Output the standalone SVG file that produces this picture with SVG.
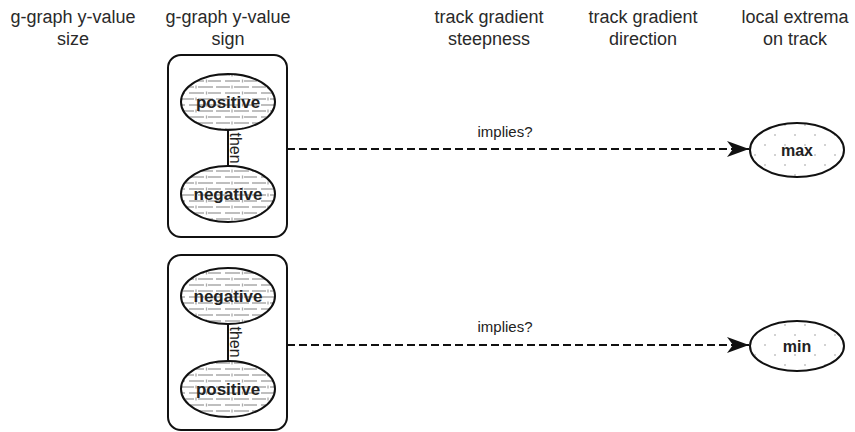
<svg xmlns="http://www.w3.org/2000/svg" width="855" height="432" viewBox="0 0 855 432">
  <defs>
    <!-- gray horizontal dash texture for sign ellipses -->
    <pattern id="hatch" patternUnits="userSpaceOnUse" width="36" height="12">
      <rect width="36" height="12" fill="#ffffff"/>
      <g stroke="#aaaaaa" stroke-width="1.3" fill="none">
        <path d="M0 3 H14 M18 3 H33"/>
        <path d="M0 9 H5 M9 9 H24 M28 9 H36"/>
        <path d="M16 1.5 V4.5 M26.5 7.5 V10.5"/>
      </g>
    </pattern>
    <!-- sparse dot texture for extrema ellipses -->
    <pattern id="dots" patternUnits="userSpaceOnUse" width="20" height="20">
      <rect width="20" height="20" fill="#ffffff"/>
      <circle cx="5" cy="5" r="0.8" fill="#999"/>
      <circle cx="15" cy="15" r="0.8" fill="#999"/>
    </pattern>
    <marker id="arrow" viewBox="0 0 22 16" refX="22" refY="8" markerWidth="22" markerHeight="16" markerUnits="userSpaceOnUse" orient="auto">
      <path d="M0 0 L22 8 L0 16 L6 8 Z" fill="#111"/>
    </marker>
    <style>
      .hdr { font-family: "Liberation Sans", Arial, sans-serif; font-size: 18px; fill: #2a2a2a; text-anchor: middle; }
      .box { fill: none; stroke: #111; stroke-width: 2; }
      .sign { fill: url(#hatch); stroke: #111; stroke-width: 2; }
      .ext { fill: url(#dots); stroke: #111; stroke-width: 2; }
      .lbl { font-family: "Liberation Sans", Arial, sans-serif; font-size: 17px; font-weight: bold; fill: #222; text-anchor: middle; }
      .then { font-family: "Liberation Sans", Arial, sans-serif; font-size: 16px; fill: #222; text-anchor: middle; }
      .imp { font-family: "Liberation Sans", Arial, sans-serif; font-size: 15px; fill: #222; text-anchor: middle; }
      .link { stroke: #111; stroke-width: 2; fill: none; }
      .dash { stroke: #111; stroke-width: 2; fill: none; stroke-dasharray: 8 4; marker-end: url(#arrow); }
    </style>
  </defs>

  <!-- column headers -->
  <g id="headers">
    <text class="hdr" x="73" y="23">g-graph y-value</text>
    <text class="hdr" x="73" y="45">size</text>
    <text class="hdr" x="228" y="23">g-graph y-value</text>
    <text class="hdr" x="228" y="45">sign</text>
    <text class="hdr" x="489" y="23">track gradient</text>
    <text class="hdr" x="489" y="45">steepness</text>
    <text class="hdr" x="643" y="23">track gradient</text>
    <text class="hdr" x="643" y="45">direction</text>
    <text class="hdr" x="795" y="23">local extrema</text>
    <text class="hdr" x="795" y="45">on track</text>
  </g>

  <!-- frames around each sign sequence -->
  <g id="frame-1"><rect class="box" x="168" y="55" width="119" height="182" rx="13"/></g>
  <g id="frame-2"><rect class="box" x="168" y="255" width="119" height="175" rx="13"/></g>

  <!-- connectors -->
  <g id="connectors">
    <line class="link" x1="228" y1="130" x2="228" y2="166"/>
    <text class="then" transform="translate(230 148) rotate(90)">then</text>
    <line class="link" x1="228" y1="324" x2="228" y2="361"/>
    <text class="then" transform="translate(230 342) rotate(90)">then</text>
    <line class="dash" x1="287" y1="149" x2="749" y2="149"/>
    <text class="imp" x="505" y="137">implies?</text>
    <line class="dash" x1="287" y1="345" x2="749" y2="345"/>
    <text class="imp" x="505" y="332">implies?</text>
  </g>

  <!-- sequence: positive then negative -->
  <g id="pos-1">
    <ellipse class="sign" cx="228" cy="102" rx="47" ry="28"/>
    <text class="lbl" x="228" y="108">positive</text>
  </g>
  <g id="neg-1">
    <ellipse class="sign" cx="228" cy="194" rx="47" ry="28"/>
    <text class="lbl" x="228" y="200">negative</text>
  </g>

  <!-- sequence: negative then positive -->
  <g id="neg-2">
    <ellipse class="sign" cx="228" cy="296" rx="47" ry="28"/>
    <text class="lbl" x="228" y="302">negative</text>
  </g>
  <g id="pos-2">
    <ellipse class="sign" cx="228" cy="389" rx="47" ry="28"/>
    <text class="lbl" x="228" y="395">positive</text>
  </g>

  <!-- extrema -->
  <g id="max">
    <ellipse class="ext" cx="797" cy="150" rx="47" ry="27"/>
    <text class="lbl" x="797" y="156" style="font-size:16px">max</text>
  </g>
  <g id="min">
    <ellipse class="ext" cx="797" cy="346" rx="47" ry="25"/>
    <text class="lbl" x="797" y="352" style="font-size:16px">min</text>
  </g>
</svg>
